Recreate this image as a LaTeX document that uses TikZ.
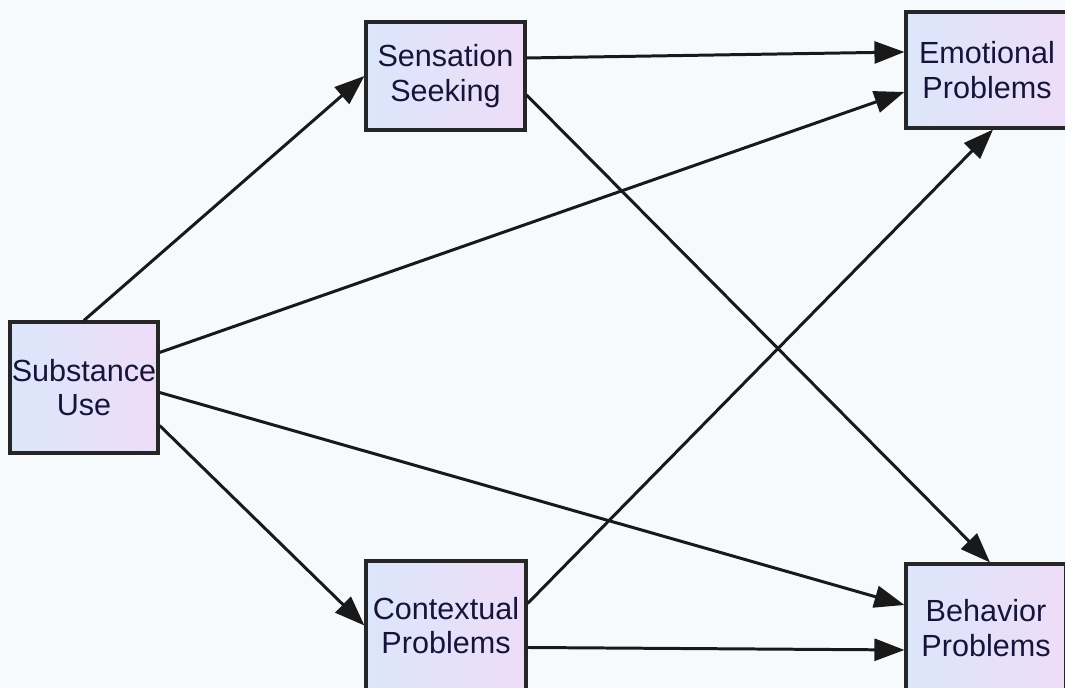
\documentclass[tikz,border=0pt]{standalone}
\usepackage{fontspec}
\setmainfont{Liberation Sans}
\usetikzlibrary{arrows.meta}
\definecolor{bgcol}{HTML}{F6FAFC}
\definecolor{boxleft}{HTML}{DCE6FB}
\definecolor{boxright}{HTML}{EEDCF8}
\definecolor{txtcol}{HTML}{15153A}
\begin{document}
\begin{tikzpicture}[var/.style={draw=black!85, line width=0.9pt, left color=boxleft, right color=boxright, align=center, text=txtcol, font=\fontsize{8.7}{9.8}\selectfont, inner sep=0pt}, path/.style={draw=black!90, line width=0.85pt, -{Triangle[length=3mm, width=2.2mm]}}]
            \fill[bgcol] (0,0) rectangle (10.65,6.88);
            \useasboundingbox (0,0) rectangle (10.65,6.88);
            \node(SU) [var, minimum width=1.48cm, minimum height=1.31cm] at (0.84,3.005) {Substance\\Use};
            \node(SS) [var, minimum width=1.59cm, minimum height=1.08cm] at (4.455,6.12) {Sensation\\Seeking};
            \node(EP) [var, minimum width=1.62cm, minimum height=1.16cm] at (9.87,6.18) {Emotional\\Problems};
            \node(CP) [var, minimum width=1.60cm, minimum height=1.29cm] at (4.46,0.625) {Contextual\\Problems};
            \node(BP) [var, minimum width=1.60cm, minimum height=1.28cm] at (9.86,0.60) {Behavior\\Problems};
            \draw[path](SU.north) to (SS.west);
            \draw[path]([yshift=3.5mm]SU.east) to ([yshift=-2.2mm]EP.west);
            \draw[path]([yshift=-0.5mm]SU.east) to ([yshift=2.3mm]BP.west);
            \draw[path]([yshift=-3.8mm]SU.east) to (CP.west);
            \draw[path]([yshift=1.8mm]SS.east) to ([yshift=1.8mm]EP.west);
            \draw[path]([yshift=-1.9mm]SS.east) to ([xshift=0.4mm]BP.north);
            \draw[path]([yshift=2.2mm]CP.east) to ([xshift=0.6mm]EP.south);
            \draw[path]([yshift=-2.2mm]CP.east) to ([yshift=-2.2mm]BP.west);
            \end{tikzpicture}
\end{document}
